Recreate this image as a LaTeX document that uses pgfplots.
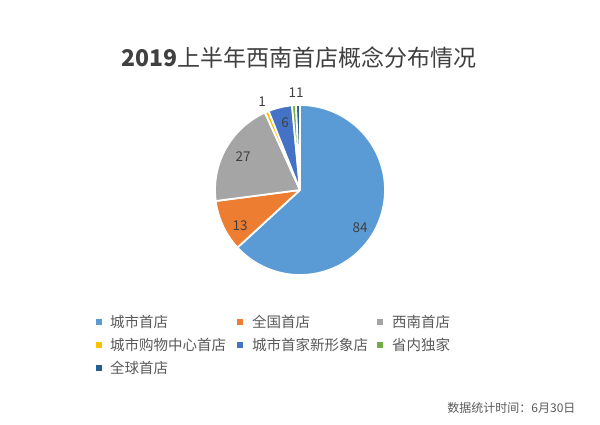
\documentclass[border=0pt]{standalone}
\usepackage{pgfplots}
\pgfplotsset{compat=1.18}
\usepackage{fontspec}
\setmainfont{Noto Sans CJK SC}
\newfontfamily\cjk{Noto Sans CJK SC}
\definecolor{c1}{HTML}{5B9BD5}
\definecolor{c2}{HTML}{ED7D31}
\definecolor{c3}{HTML}{A5A5A5}
\definecolor{c4}{HTML}{FFC000}
\definecolor{c5}{HTML}{4472C4}
\definecolor{c6}{HTML}{70AD47}
\definecolor{c7}{HTML}{255E91}
\definecolor{titlec}{HTML}{404040}
\definecolor{textc}{HTML}{595959}
% start (cumulative), value, colour ; total = 133
\newcommand{\slice}[3]{%
  \pgfmathsetmacro\aS{90-(360/133)*(#1+#2)}%
  \pgfmathsetmacro\aE{90-(360/133)*(#1)}%
  \addplot[fill=#3, draw=white, line width=1.8pt, line join=round, domain=\aS:\aE, samples=120, variable=\t]
    ({300+85*cos(\t)},{234+85*sin(\t)}) -- (axis cs:300,234) -- cycle;
}
\begin{document}
\begin{tikzpicture}
\begin{axis}[
  scale only axis, width=600pt, height=424pt,
  xmin=0, xmax=600, ymin=0, ymax=424,
  hide axis, clip=false,
]
\slice{0}{84}{c1}
\slice{84}{13}{c2}
\slice{97}{27}{c3}
\slice{124}{1}{c4}
\slice{125}{6}{c5}
\slice{131}{1}{c6}
\slice{132}{1}{c7}
% data labels
\begin{scope}[every node/.style={font=\fontsize{13.5}{13.5}\selectfont, text=titlec}]
\node at (axis cs:360,196) {84};
\node at (axis cs:240,198) {13};
\node at (axis cs:243,267) {27};
\node at (axis cs:285,301) {6};
\node at (axis cs:262,322) {1};
\node at (axis cs:296,331) {11};
\end{scope}
% title
\node[font=\fontsize{23}{23}\selectfont, text=titlec] at (axis cs:299,366) {\textbf{2019}上半年西南首店概念分布情况};
% legend
\begin{scope}[every node/.style={font=\fontsize{14.5}{14.5}\selectfont, text=textc, anchor=west, inner sep=0pt}]
\fill[c1] (axis cs:96,99.3) rectangle (axis cs:102,105.3);
\node at (axis cs:110,102.3) {城市首店};
\fill[c2] (axis cs:237,99.3) rectangle (axis cs:243,105.3);
\node at (axis cs:252,102.3) {全国首店};
\fill[c3] (axis cs:377,99.3) rectangle (axis cs:383,105.3);
\node at (axis cs:392,102.3) {西南首店};
\fill[c4] (axis cs:96,76) rectangle (axis cs:102,82);
\node at (axis cs:110,79) {城市购物中心首店};
\fill[c5] (axis cs:237,76) rectangle (axis cs:243,82);
\node at (axis cs:252,79) {城市首家新形象店};
\fill[c6] (axis cs:377,76) rectangle (axis cs:383,82);
\node at (axis cs:392,79) {省内独家};
\fill[c7] (axis cs:96,52.7) rectangle (axis cs:102,58.7);
\node at (axis cs:110,55.7) {全球首店};
\end{scope}
% footer
\node[anchor=east, font=\fontsize{12}{12}\selectfont, text=textc] at (axis cs:579,16) {数据统计时间：6月30日};
\end{axis}
\path (current axis.south west) rectangle (current axis.north east);
\end{tikzpicture}
\end{document}
